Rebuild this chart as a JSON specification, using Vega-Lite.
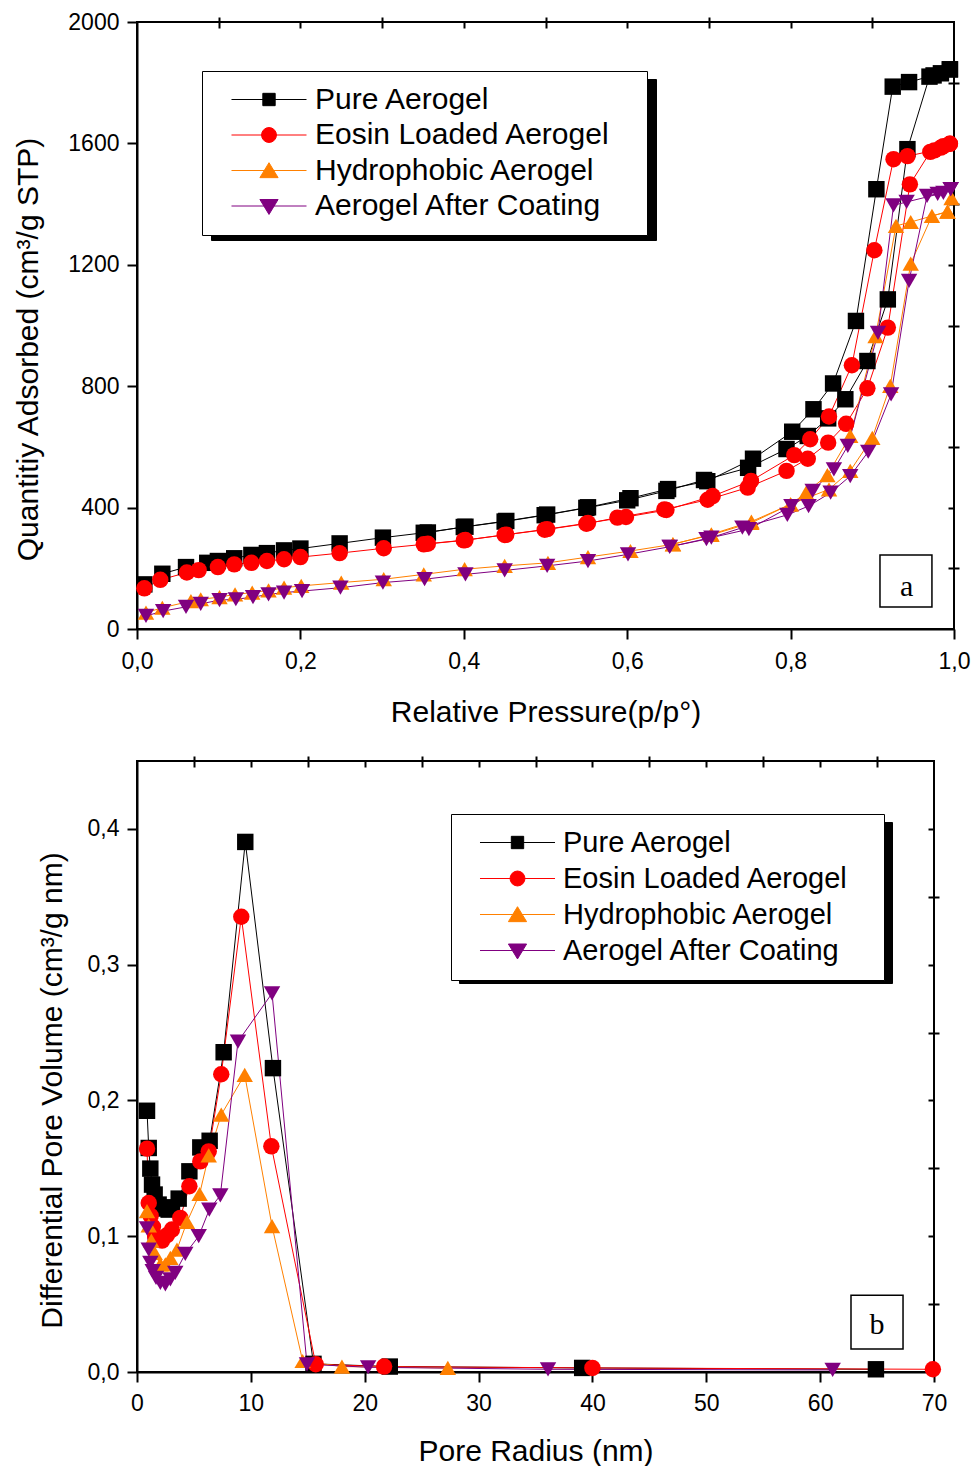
{
"$schema": "https://vega.github.io/schema/vega-lite/v6.json",
"background": "white",
"padding": {"left": 12, "top": 10, "right": 10, "bottom": 2},
"spacing": 26,
"config": {
 "font": "Liberation Sans",
 "view": {"stroke": "black", "strokeWidth": 2},
 "axis": {"grid": false, "domainColor": "black", "tickColor": "black", "labelColor": "black", "titleColor": "black", "labelFont": "Liberation Sans", "titleFont": "Liberation Sans", "labelFontSize": 23, "titleFontSize": 30, "titleFontWeight": "normal", "tickWidth": 2, "domainWidth": 2, "labelFlush": false, "labelOverlap": false}
},
"datasets": {
 "iso": [
  {"s":"Pure Aerogel","b":"a","p":0.009,"q":147},{"s":"Pure Aerogel","b":"a","p":0.031,"q":182},{"s":"Pure Aerogel","b":"a","p":0.060,"q":204},{"s":"Pure Aerogel","b":"a","p":0.086,"q":218},{"s":"Pure Aerogel","b":"a","p":0.099,"q":224},{"s":"Pure Aerogel","b":"a","p":0.119,"q":233},{"s":"Pure Aerogel","b":"a","p":0.140,"q":244},{"s":"Pure Aerogel","b":"a","p":0.159,"q":250},{"s":"Pure Aerogel","b":"a","p":0.180,"q":259},{"s":"Pure Aerogel","b":"a","p":0.200,"q":265},{"s":"Pure Aerogel","b":"a","p":0.248,"q":282},{"s":"Pure Aerogel","b":"a","p":0.301,"q":301},{"s":"Pure Aerogel","b":"a","p":0.351,"q":317},{"s":"Pure Aerogel","b":"a","p":0.400,"q":336},{"s":"Pure Aerogel","b":"a","p":0.450,"q":354},{"s":"Pure Aerogel","b":"a","p":0.499,"q":375},{"s":"Pure Aerogel","b":"a","p":0.550,"q":399},{"s":"Pure Aerogel","b":"a","p":0.600,"q":424},{"s":"Pure Aerogel","b":"a","p":0.648,"q":455},{"s":"Pure Aerogel","b":"a","p":0.694,"q":491},{"s":"Pure Aerogel","b":"a","p":0.748,"q":531},{"s":"Pure Aerogel","b":"a","p":0.795,"q":593},{"s":"Pure Aerogel","b":"a","p":0.821,"q":636},{"s":"Pure Aerogel","b":"a","p":0.846,"q":694},{"s":"Pure Aerogel","b":"a","p":0.867,"q":757},{"s":"Pure Aerogel","b":"a","p":0.894,"q":883},{"s":"Pure Aerogel","b":"a","p":0.919,"q":1086},{"s":"Pure Aerogel","b":"a","p":0.943,"q":1581},{"s":"Pure Aerogel","b":"a","p":0.970,"q":1820},{"s":"Pure Aerogel","b":"a","p":0.984,"q":1831},{"s":"Pure Aerogel","b":"a","p":0.995,"q":1844},
  {"s":"Pure Aerogel","b":"d","p":0.995,"q":1844},{"s":"Pure Aerogel","b":"d","p":0.975,"q":1824},{"s":"Pure Aerogel","b":"d","p":0.945,"q":1802},{"s":"Pure Aerogel","b":"d","p":0.925,"q":1787},{"s":"Pure Aerogel","b":"d","p":0.905,"q":1449},{"s":"Pure Aerogel","b":"d","p":0.880,"q":1015},{"s":"Pure Aerogel","b":"d","p":0.852,"q":809},{"s":"Pure Aerogel","b":"d","p":0.828,"q":724},{"s":"Pure Aerogel","b":"d","p":0.802,"q":650},{"s":"Pure Aerogel","b":"d","p":0.754,"q":561},{"s":"Pure Aerogel","b":"d","p":0.698,"q":487},{"s":"Pure Aerogel","b":"d","p":0.650,"q":461},{"s":"Pure Aerogel","b":"d","p":0.604,"q":431},{"s":"Pure Aerogel","b":"d","p":0.552,"q":401},{"s":"Pure Aerogel","b":"d","p":0.502,"q":377},{"s":"Pure Aerogel","b":"d","p":0.452,"q":356},{"s":"Pure Aerogel","b":"d","p":0.402,"q":337},{"s":"Pure Aerogel","b":"d","p":0.356,"q":318},
  {"s":"Eosin Loaded Aerogel","b":"a","p":0.009,"q":134},{"s":"Eosin Loaded Aerogel","b":"a","p":0.0285,"q":162},{"s":"Eosin Loaded Aerogel","b":"a","p":0.061,"q":186},{"s":"Eosin Loaded Aerogel","b":"a","p":0.0755,"q":194},{"s":"Eosin Loaded Aerogel","b":"a","p":0.099,"q":204},{"s":"Eosin Loaded Aerogel","b":"a","p":0.119,"q":213},{"s":"Eosin Loaded Aerogel","b":"a","p":0.140,"q":218},{"s":"Eosin Loaded Aerogel","b":"a","p":0.159,"q":224},{"s":"Eosin Loaded Aerogel","b":"a","p":0.180,"q":230},{"s":"Eosin Loaded Aerogel","b":"a","p":0.200,"q":237},{"s":"Eosin Loaded Aerogel","b":"a","p":0.248,"q":250},{"s":"Eosin Loaded Aerogel","b":"a","p":0.302,"q":266},{"s":"Eosin Loaded Aerogel","b":"a","p":0.351,"q":279},{"s":"Eosin Loaded Aerogel","b":"a","p":0.400,"q":292},{"s":"Eosin Loaded Aerogel","b":"a","p":0.450,"q":310},{"s":"Eosin Loaded Aerogel","b":"a","p":0.499,"q":327},{"s":"Eosin Loaded Aerogel","b":"a","p":0.550,"q":347},{"s":"Eosin Loaded Aerogel","b":"a","p":0.588,"q":367},{"s":"Eosin Loaded Aerogel","b":"a","p":0.6455,"q":394},{"s":"Eosin Loaded Aerogel","b":"a","p":0.6985,"q":426},{"s":"Eosin Loaded Aerogel","b":"a","p":0.7475,"q":466},{"s":"Eosin Loaded Aerogel","b":"a","p":0.795,"q":521},{"s":"Eosin Loaded Aerogel","b":"a","p":0.821,"q":561},{"s":"Eosin Loaded Aerogel","b":"a","p":0.846,"q":614},{"s":"Eosin Loaded Aerogel","b":"a","p":0.868,"q":676},{"s":"Eosin Loaded Aerogel","b":"a","p":0.894,"q":793},{"s":"Eosin Loaded Aerogel","b":"a","p":0.919,"q":993},{"s":"Eosin Loaded Aerogel","b":"a","p":0.946,"q":1465},{"s":"Eosin Loaded Aerogel","b":"a","p":0.971,"q":1572},{"s":"Eosin Loaded Aerogel","b":"a","p":0.984,"q":1586},{"s":"Eosin Loaded Aerogel","b":"a","p":0.995,"q":1599},
  {"s":"Eosin Loaded Aerogel","b":"d","p":0.995,"q":1599},{"s":"Eosin Loaded Aerogel","b":"d","p":0.987,"q":1591},{"s":"Eosin Loaded Aerogel","b":"d","p":0.976,"q":1577},{"s":"Eosin Loaded Aerogel","b":"d","p":0.943,"q":1558},{"s":"Eosin Loaded Aerogel","b":"d","p":0.926,"q":1548},{"s":"Eosin Loaded Aerogel","b":"d","p":0.9025,"q":1248},{"s":"Eosin Loaded Aerogel","b":"d","p":0.875,"q":869},{"s":"Eosin Loaded Aerogel","b":"d","p":0.847,"q":700},{"s":"Eosin Loaded Aerogel","b":"d","p":0.824,"q":625},{"s":"Eosin Loaded Aerogel","b":"d","p":0.8045,"q":573},{"s":"Eosin Loaded Aerogel","b":"d","p":0.7515,"q":488},{"s":"Eosin Loaded Aerogel","b":"d","p":0.7046,"q":438},{"s":"Eosin Loaded Aerogel","b":"d","p":0.648,"q":392},{"s":"Eosin Loaded Aerogel","b":"d","p":0.5985,"q":369},{"s":"Eosin Loaded Aerogel","b":"d","p":0.552,"q":349},{"s":"Eosin Loaded Aerogel","b":"d","p":0.502,"q":329},{"s":"Eosin Loaded Aerogel","b":"d","p":0.452,"q":311},{"s":"Eosin Loaded Aerogel","b":"d","p":0.402,"q":293},{"s":"Eosin Loaded Aerogel","b":"d","p":0.356,"q":281},
  {"s":"Hydrophobic Aerogel","b":"a","p":0.011,"q":54},{"s":"Hydrophobic Aerogel","b":"a","p":0.031,"q":70},{"s":"Hydrophobic Aerogel","b":"a","p":0.066,"q":92},{"s":"Hydrophobic Aerogel","b":"a","p":0.078,"q":98},{"s":"Hydrophobic Aerogel","b":"a","p":0.101,"q":105},{"s":"Hydrophobic Aerogel","b":"a","p":0.120,"q":114},{"s":"Hydrophobic Aerogel","b":"a","p":0.141,"q":120},{"s":"Hydrophobic Aerogel","b":"a","p":0.161,"q":127},{"s":"Hydrophobic Aerogel","b":"a","p":0.180,"q":136},{"s":"Hydrophobic Aerogel","b":"a","p":0.201,"q":142},{"s":"Hydrophobic Aerogel","b":"a","p":0.250,"q":153},{"s":"Hydrophobic Aerogel","b":"a","p":0.302,"q":164},{"s":"Hydrophobic Aerogel","b":"a","p":0.351,"q":180},{"s":"Hydrophobic Aerogel","b":"a","p":0.401,"q":197},{"s":"Hydrophobic Aerogel","b":"a","p":0.450,"q":208},{"s":"Hydrophobic Aerogel","b":"a","p":0.503,"q":218},{"s":"Hydrophobic Aerogel","b":"a","p":0.552,"q":237},{"s":"Hydrophobic Aerogel","b":"a","p":0.604,"q":257},{"s":"Hydrophobic Aerogel","b":"a","p":0.656,"q":279},{"s":"Hydrophobic Aerogel","b":"a","p":0.703,"q":312},{"s":"Hydrophobic Aerogel","b":"a","p":0.752,"q":354},{"s":"Hydrophobic Aerogel","b":"a","p":0.800,"q":411},{"s":"Hydrophobic Aerogel","b":"a","p":0.847,"q":460},{"s":"Hydrophobic Aerogel","b":"a","p":0.873,"q":521},{"s":"Hydrophobic Aerogel","b":"a","p":0.900,"q":630},{"s":"Hydrophobic Aerogel","b":"a","p":0.922,"q":801},{"s":"Hydrophobic Aerogel","b":"a","p":0.947,"q":1204},{"s":"Hydrophobic Aerogel","b":"a","p":0.973,"q":1361},{"s":"Hydrophobic Aerogel","b":"a","p":0.992,"q":1375},
  {"s":"Hydrophobic Aerogel","b":"d","p":0.992,"q":1375},{"s":"Hydrophobic Aerogel","b":"d","p":0.997,"q":1420},{"s":"Hydrophobic Aerogel","b":"d","p":0.947,"q":1341},{"s":"Hydrophobic Aerogel","b":"d","p":0.929,"q":1328},{"s":"Hydrophobic Aerogel","b":"d","p":0.904,"q":965},{"s":"Hydrophobic Aerogel","b":"d","p":0.873,"q":636},{"s":"Hydrophobic Aerogel","b":"d","p":0.845,"q":507},{"s":"Hydrophobic Aerogel","b":"d","p":0.819,"q":449},{"s":"Hydrophobic Aerogel","b":"d","p":0.800,"q":411},{"s":"Hydrophobic Aerogel","b":"d","p":0.752,"q":350},{"s":"Hydrophobic Aerogel","b":"d","p":0.703,"q":310},{"s":"Hydrophobic Aerogel","b":"d","p":0.656,"q":280},
  {"s":"Aerogel After Coating","b":"a","p":0.011,"q":43},{"s":"Aerogel After Coating","b":"a","p":0.032,"q":59},{"s":"Aerogel After Coating","b":"a","p":0.060,"q":73},{"s":"Aerogel After Coating","b":"a","p":0.078,"q":83},{"s":"Aerogel After Coating","b":"a","p":0.101,"q":95},{"s":"Aerogel After Coating","b":"a","p":0.121,"q":98},{"s":"Aerogel After Coating","b":"a","p":0.142,"q":105},{"s":"Aerogel After Coating","b":"a","p":0.161,"q":114},{"s":"Aerogel After Coating","b":"a","p":0.180,"q":120},{"s":"Aerogel After Coating","b":"a","p":0.202,"q":125},{"s":"Aerogel After Coating","b":"a","p":0.249,"q":136},{"s":"Aerogel After Coating","b":"a","p":0.301,"q":153},{"s":"Aerogel After Coating","b":"a","p":0.352,"q":164},{"s":"Aerogel After Coating","b":"a","p":0.402,"q":180},{"s":"Aerogel After Coating","b":"a","p":0.450,"q":193},{"s":"Aerogel After Coating","b":"a","p":0.502,"q":208},{"s":"Aerogel After Coating","b":"a","p":0.552,"q":224},{"s":"Aerogel After Coating","b":"a","p":0.601,"q":246},{"s":"Aerogel After Coating","b":"a","p":0.652,"q":271},{"s":"Aerogel After Coating","b":"a","p":0.697,"q":296},{"s":"Aerogel After Coating","b":"a","p":0.741,"q":334},{"s":"Aerogel After Coating","b":"a","p":0.796,"q":376},{"s":"Aerogel After Coating","b":"a","p":0.822,"q":405},{"s":"Aerogel After Coating","b":"a","p":0.849,"q":449},{"s":"Aerogel After Coating","b":"a","p":0.873,"q":504},{"s":"Aerogel After Coating","b":"a","p":0.895,"q":584},{"s":"Aerogel After Coating","b":"a","p":0.923,"q":773},{"s":"Aerogel After Coating","b":"a","p":0.945,"q":1147},{"s":"Aerogel After Coating","b":"a","p":0.967,"q":1427},{"s":"Aerogel After Coating","b":"a","p":0.980,"q":1434},{"s":"Aerogel After Coating","b":"a","p":0.996,"q":1449},
  {"s":"Aerogel After Coating","b":"d","p":0.996,"q":1449},{"s":"Aerogel After Coating","b":"d","p":0.987,"q":1437},{"s":"Aerogel After Coating","b":"d","p":0.942,"q":1407},{"s":"Aerogel After Coating","b":"d","p":0.926,"q":1396},{"s":"Aerogel After Coating","b":"d","p":0.907,"q":976},{"s":"Aerogel After Coating","b":"d","p":0.870,"q":603},{"s":"Aerogel After Coating","b":"d","p":0.853,"q":526},{"s":"Aerogel After Coating","b":"d","p":0.827,"q":455},{"s":"Aerogel After Coating","b":"d","p":0.801,"q":405},{"s":"Aerogel After Coating","b":"d","p":0.749,"q":329},{"s":"Aerogel After Coating","b":"d","p":0.703,"q":301},{"s":"Aerogel After Coating","b":"d","p":0.652,"q":271}
 ],
 "psd": [
  {"s":"Pure Aerogel","r":0.88,"v":0.1924},{"s":"Pure Aerogel","r":1.03,"v":0.165},{"s":"Pure Aerogel","r":1.17,"v":0.1498},{"s":"Pure Aerogel","r":1.32,"v":0.138},{"s":"Pure Aerogel","r":1.55,"v":0.1307},{"s":"Pure Aerogel","r":1.9,"v":0.1233},{"s":"Pure Aerogel","r":2.34,"v":0.1204},{"s":"Pure Aerogel","r":2.78,"v":0.1196},{"s":"Pure Aerogel","r":3.07,"v":0.1213},{"s":"Pure Aerogel","r":3.66,"v":0.1277},{"s":"Pure Aerogel","r":4.6,"v":0.1478},{"s":"Pure Aerogel","r":5.56,"v":0.1654},{"s":"Pure Aerogel","r":6.38,"v":0.1703},{"s":"Pure Aerogel","r":7.61,"v":0.2355},{"s":"Pure Aerogel","r":9.51,"v":0.3904},{"s":"Pure Aerogel","r":11.94,"v":0.2238},{"s":"Pure Aerogel","r":15.5,"v":0.006},{"s":"Pure Aerogel","r":22.2,"v":0.004},{"s":"Pure Aerogel","r":39.1,"v":0.003},{"s":"Pure Aerogel","r":64.9,"v":0.002},
  {"s":"Eosin Loaded Aerogel","r":0.88,"v":0.1645},{"s":"Eosin Loaded Aerogel","r":1.03,"v":0.1245},{"s":"Eosin Loaded Aerogel","r":1.2,"v":0.115},{"s":"Eosin Loaded Aerogel","r":1.4,"v":0.107},{"s":"Eosin Loaded Aerogel","r":1.6,"v":0.1},{"s":"Eosin Loaded Aerogel","r":1.76,"v":0.0976},{"s":"Eosin Loaded Aerogel","r":2.2,"v":0.0968},{"s":"Eosin Loaded Aerogel","r":2.63,"v":0.1007},{"s":"Eosin Loaded Aerogel","r":3.07,"v":0.1049},{"s":"Eosin Loaded Aerogel","r":3.8,"v":0.1135},{"s":"Eosin Loaded Aerogel","r":4.6,"v":0.1368},{"s":"Eosin Loaded Aerogel","r":5.56,"v":0.1551},{"s":"Eosin Loaded Aerogel","r":6.3,"v":0.1625},{"s":"Eosin Loaded Aerogel","r":7.4,"v":0.2193},{"s":"Eosin Loaded Aerogel","r":9.16,"v":0.3353},{"s":"Eosin Loaded Aerogel","r":11.8,"v":0.1662},{"s":"Eosin Loaded Aerogel","r":15.7,"v":0.0057},{"s":"Eosin Loaded Aerogel","r":21.7,"v":0.004},{"s":"Eosin Loaded Aerogel","r":40.0,"v":0.003},{"s":"Eosin Loaded Aerogel","r":69.9,"v":0.002},
  {"s":"Hydrophobic Aerogel","r":0.88,"v":0.1184},{"s":"Hydrophobic Aerogel","r":1.03,"v":0.108},{"s":"Hydrophobic Aerogel","r":1.26,"v":0.0968},{"s":"Hydrophobic Aerogel","r":1.55,"v":0.0877},{"s":"Hydrophobic Aerogel","r":2.05,"v":0.0792},{"s":"Hydrophobic Aerogel","r":2.49,"v":0.0792},{"s":"Hydrophobic Aerogel","r":2.93,"v":0.084},{"s":"Hydrophobic Aerogel","r":3.51,"v":0.0902},{"s":"Hydrophobic Aerogel","r":4.39,"v":0.1105},{"s":"Hydrophobic Aerogel","r":5.5,"v":0.1311},{"s":"Hydrophobic Aerogel","r":6.3,"v":0.1596},{"s":"Hydrophobic Aerogel","r":7.4,"v":0.1895},{"s":"Hydrophobic Aerogel","r":9.46,"v":0.2189},{"s":"Hydrophobic Aerogel","r":11.86,"v":0.1074},{"s":"Hydrophobic Aerogel","r":14.55,"v":0.0081},{"s":"Hydrophobic Aerogel","r":18.0,"v":0.004},{"s":"Hydrophobic Aerogel","r":27.3,"v":0.003},
  {"s":"Aerogel After Coating","r":0.88,"v":0.1057},{"s":"Aerogel After Coating","r":1.03,"v":0.0902},{"s":"Aerogel After Coating","r":1.17,"v":0.0804},{"s":"Aerogel After Coating","r":1.38,"v":0.0743},{"s":"Aerogel After Coating","r":1.67,"v":0.0693},{"s":"Aerogel After Coating","r":2.05,"v":0.0657},{"s":"Aerogel After Coating","r":2.49,"v":0.0645},{"s":"Aerogel After Coating","r":2.93,"v":0.0682},{"s":"Aerogel After Coating","r":3.36,"v":0.073},{"s":"Aerogel After Coating","r":4.24,"v":0.087},{"s":"Aerogel After Coating","r":5.42,"v":0.1},{"s":"Aerogel After Coating","r":6.35,"v":0.1196},{"s":"Aerogel After Coating","r":7.32,"v":0.1301},{"s":"Aerogel After Coating","r":8.87,"v":0.2434},{"s":"Aerogel After Coating","r":11.86,"v":0.2789},{"s":"Aerogel After Coating","r":14.93,"v":0.0057},{"s":"Aerogel After Coating","r":20.3,"v":0.0035},{"s":"Aerogel After Coating","r":36.1,"v":0.002},{"s":"Aerogel After Coating","r":61.1,"v":0.0015}
 ]
},
"resolve": {
 "scale": {"color": "independent", "shape": "independent", "size": "independent", "opacity": "independent"},
 "legend": {"color": "independent", "opacity": "independent"}
},
"vconcat": [
 {
  "width": 817, "height": 607,
  "data": {"name": "iso"},
  "resolve": {"axis": {"x": "independent", "y": "independent"}},
  "layer": [
   {
    "mark": {"type": "line", "strokeWidth": 1},
    "encoding": {
     "x": {"field": "p", "type": "quantitative", "scale": {"domain": [0, 1], "nice": false}, "axis": {"values": [0, 0.2, 0.4, 0.6, 0.8, 1.0], "labelExpr": "replace(format(datum.value, '.1f'), '.', ',')", "title": "Relative Pressure(p/p°)", "tickSize": 10, "labelPadding": 11, "titlePadding": 24}},
     "y": {"field": "q", "type": "quantitative", "scale": {"domain": [0, 2000], "nice": false}, "axis": {"values": [0, 400, 800, 1200, 1600, 2000], "format": "d", "title": "Quantitiy Adsorbed (cm³/g STP)", "tickSize": 10, "labelPadding": 8, "titlePadding": 24, "titleY": 327}},
     "color": {"field": "s", "type": "nominal", "scale": {"domain": ["Pure Aerogel", "Eosin Loaded Aerogel", "Hydrophobic Aerogel", "Aerogel After Coating"], "range": ["#000000", "#ff0000", "#ff8000", "#800080"]},
      "legend": {"orient": "none", "legendX": 65, "legendY": 49, "title": null, "padding": 14, "rowPadding": 4.5, "clipHeight": 29, "symbolOffset": 38, "labelOffset": 31, "labelFont": "Liberation Sans", "labelFontSize": 30, "labelColor": "black", "labelLimit": 800, "symbolSize": 169, "symbolStrokeWidth": 1, "strokeColor": "black", "fillColor": "white", "zindex": 2, "labelExpr": "datum.label + '\u2800'",
       "encode": {"symbols": {"update": {
        "shape": {"signal": "datum.value === 'Pure Aerogel' ? 'M-5.77,0H5.77M-0.95,-0.95H0.95V0.95H-0.95Z' : datum.value === 'Eosin Loaded Aerogel' ? 'M-5.77,0H5.77M1.15,0L1.062,0.44L0.813,0.813L0.44,1.062L0,1.15L-0.44,1.062L-0.813,0.813L-1.062,0.44L-1.15,0L-1.062,-0.44L-0.813,-0.813L-0.44,-1.062L0,-1.15L0.44,-1.062L0.813,-0.813L1.062,-0.44Z' : datum.value === 'Hydrophobic Aerogel' ? 'M-5.77,0H5.77M0,-1.2L1.4,1.1L-1.4,1.1Z' : 'M-5.77,0H5.77M0,1.3L1.4,-1L-1.4,-1Z'"},
        "fill": {"signal": "datum.value === 'Pure Aerogel' ? '#000000' : datum.value === 'Eosin Loaded Aerogel' ? '#ff0000' : datum.value === 'Hydrophobic Aerogel' ? '#ff8000' : '#800080'"},
        "stroke": {"signal": "datum.value === 'Pure Aerogel' ? '#000000' : datum.value === 'Eosin Loaded Aerogel' ? '#ff0000' : datum.value === 'Hydrophobic Aerogel' ? '#ff8000' : '#800080'"},
        "size": {"value": 169}, "opacity": {"value": 1}, "strokeWidth": {"value": 1}}}}}},
     "detail": {"field": "b"}
    }
   },
   {
    "mark": {"type": "point", "filled": true, "opacity": 1},
    "encoding": {
     "x": {"field": "p", "type": "quantitative", "axis": {"values": [0.1, 0.3, 0.5, 0.7, 0.9], "tickSize": 5, "labels": false, "domain": false, "title": null}},
     "y": {"field": "q", "type": "quantitative", "axis": {"values": [200, 600, 1000, 1400, 1800], "tickSize": 5, "labels": false, "domain": false, "title": null}},
     "color": {"field": "s", "type": "nominal", "scale": {"domain": ["Pure Aerogel", "Eosin Loaded Aerogel", "Hydrophobic Aerogel", "Aerogel After Coating"], "range": ["#000000", "#ff0000", "#ff8000", "#800080"]}},
     "shape": {"field": "s", "type": "nominal", "scale": {"domain": ["Aerogel After Coating", "Eosin Loaded Aerogel", "Hydrophobic Aerogel", "Pure Aerogel"], "range": ["triangle-down", "circle", "triangle-up", "square"]}, "legend": null},
     "size": {"field": "s", "type": "nominal", "scale": {"domain": ["Hydrophobic Aerogel", "Aerogel After Coating", "Pure Aerogel", "Eosin Loaded Aerogel"], "range": [270, 270, 115, 145]}, "legend": null}
    }
   },
   {
    "mark": {"type": "point", "filled": true},
    "encoding": {
     "x": {"field": "p", "type": "quantitative", "axis": {"orient": "top", "values": [0.1, 0.2, 0.3, 0.4, 0.5, 0.6, 0.7, 0.8, 0.9], "tickSize": -6, "labels": false, "domain": false, "title": null}},
     "y": {"field": "q", "type": "quantitative", "axis": {"orient": "right", "values": [200, 400, 600, 800, 1000, 1200, 1400, 1600, 1800], "tickSize": -6, "labels": false, "domain": false, "title": null}},
     "opacity": {"field": "s", "type": "ordinal", "scale": {"range": [0, 0]},
      "legend": {"orient": "none", "legendX": 74, "legendY": 57, "title": null, "padding": 14, "rowPadding": 20.5, "clipHeight": 29, "symbolOffset": 38, "labelOffset": 31, "labelFont": "Liberation Sans", "labelFontSize": 30, "labelColor": "black", "labelLimit": 800, "symbolSize": 169, "symbolStrokeWidth": 1, "strokeColor": "black", "fillColor": "black", "zindex": 1, "labelExpr": "datum.label + '\u2800'",
       "encode": {"symbols": {"update": {
        "shape": {"signal": "datum.value === 'Pure Aerogel' ? 'M-5.77,0H5.77M-0.95,-0.95H0.95V0.95H-0.95Z' : datum.value === 'Eosin Loaded Aerogel' ? 'M-5.77,0H5.77M1.15,0L1.062,0.44L0.813,0.813L0.44,1.062L0,1.15L-0.44,1.062L-0.813,0.813L-1.062,0.44L-1.15,0L-1.062,-0.44L-0.813,-0.813L-0.44,-1.062L0,-1.15L0.44,-1.062L0.813,-0.813L1.062,-0.44Z' : datum.value === 'Hydrophobic Aerogel' ? 'M-5.77,0H5.77M0,-1.2L1.4,1.1L-1.4,1.1Z' : 'M-5.77,0H5.77M0,1.3L1.4,-1L-1.4,-1Z'"},
        "size": {"value": 169}, "opacity": {"value": 0}}}}}}
    }
   },
   {
    "data": {"values": [{}]},
    "mark": {"type": "rect", "fill": "white", "stroke": "black", "strokeWidth": 1.5},
    "encoding": {
     "x": {"datum": 0.9094, "type": "quantitative", "axis": null}, "x2": {"datum": 0.973},
     "y": {"datum": 243.8, "type": "quantitative", "axis": null}, "y2": {"datum": 72.5}
    }
   },
   {
    "data": {"values": [{}]},
    "mark": {"type": "text", "font": "Liberation Serif", "fontSize": 30, "align": "center", "baseline": "middle", "color": "black"},
    "encoding": {
     "x": {"datum": 0.942, "type": "quantitative", "axis": null},
     "y": {"datum": 140, "type": "quantitative", "axis": null},
     "text": {"value": "a"}
    }
   }
  ]
 },
 {
  "width": 797, "height": 611,
  "data": {"name": "psd"},
  "resolve": {"axis": {"x": "independent", "y": "independent"}},
  "layer": [
   {
    "mark": {"type": "line", "strokeWidth": 1},
    "encoding": {
     "x": {"field": "r", "type": "quantitative", "scale": {"domain": [0, 70], "nice": false}, "axis": {"values": [0, 10, 20, 30, 40, 50, 60, 70], "format": "d", "title": "Pore Radius (nm)", "tickSize": 10, "labelPadding": 10, "titlePadding": 21}},
     "y": {"field": "v", "type": "quantitative", "scale": {"domain": [0, 0.45], "nice": false}, "axis": {"values": [0, 0.1, 0.2, 0.3, 0.4], "labelExpr": "replace(format(datum.value, '.1f'), '.', ',')", "title": "Differential Pore Volume (cm³/g nm)", "tickSize": 10, "labelPadding": 8, "titlePadding": 20, "titleY": 329}},
     "color": {"field": "s", "type": "nominal", "scale": {"domain": ["Pure Aerogel", "Eosin Loaded Aerogel", "Hydrophobic Aerogel", "Aerogel After Coating"], "range": ["#000000", "#ff0000", "#ff8000", "#800080"]},
      "legend": {"orient": "none", "legendX": 314, "legendY": 53, "title": null, "padding": 14, "rowPadding": 6, "clipHeight": 29, "symbolOffset": 38, "labelOffset": 31, "labelFont": "Liberation Sans", "labelFontSize": 29, "labelColor": "black", "labelLimit": 800, "symbolSize": 169, "symbolStrokeWidth": 1, "strokeColor": "black", "fillColor": "white", "zindex": 2, "labelExpr": "datum.label + '\u2800'",
       "encode": {"symbols": {"update": {
        "shape": {"signal": "datum.value === 'Pure Aerogel' ? 'M-5.77,0H5.77M-0.95,-0.95H0.95V0.95H-0.95Z' : datum.value === 'Eosin Loaded Aerogel' ? 'M-5.77,0H5.77M1.15,0L1.062,0.44L0.813,0.813L0.44,1.062L0,1.15L-0.44,1.062L-0.813,0.813L-1.062,0.44L-1.15,0L-1.062,-0.44L-0.813,-0.813L-0.44,-1.062L0,-1.15L0.44,-1.062L0.813,-0.813L1.062,-0.44Z' : datum.value === 'Hydrophobic Aerogel' ? 'M-5.77,0H5.77M0,-1.2L1.4,1.1L-1.4,1.1Z' : 'M-5.77,0H5.77M0,1.3L1.4,-1L-1.4,-1Z'"},
        "fill": {"signal": "datum.value === 'Pure Aerogel' ? '#000000' : datum.value === 'Eosin Loaded Aerogel' ? '#ff0000' : datum.value === 'Hydrophobic Aerogel' ? '#ff8000' : '#800080'"},
        "stroke": {"signal": "datum.value === 'Pure Aerogel' ? '#000000' : datum.value === 'Eosin Loaded Aerogel' ? '#ff0000' : datum.value === 'Hydrophobic Aerogel' ? '#ff8000' : '#800080'"},
        "size": {"value": 169}, "opacity": {"value": 1}, "strokeWidth": {"value": 1}}}}}}
    }
   },
   {
    "mark": {"type": "point", "filled": true, "opacity": 1},
    "encoding": {
     "x": {"field": "r", "type": "quantitative", "axis": {"values": [5, 15, 25, 35, 45, 55, 65], "tickSize": 5, "labels": false, "domain": false, "title": null}},
     "y": {"field": "v", "type": "quantitative", "axis": {"values": [0.05, 0.15, 0.25, 0.35], "tickSize": 5, "labels": false, "domain": false, "title": null}},
     "color": {"field": "s", "type": "nominal", "scale": {"domain": ["Pure Aerogel", "Eosin Loaded Aerogel", "Hydrophobic Aerogel", "Aerogel After Coating"], "range": ["#000000", "#ff0000", "#ff8000", "#800080"]}},
     "shape": {"field": "s", "type": "nominal", "scale": {"domain": ["Aerogel After Coating", "Eosin Loaded Aerogel", "Hydrophobic Aerogel", "Pure Aerogel"], "range": ["triangle-down", "circle", "triangle-up", "square"]}, "legend": null},
     "size": {"field": "s", "type": "nominal", "scale": {"domain": ["Hydrophobic Aerogel", "Aerogel After Coating", "Pure Aerogel", "Eosin Loaded Aerogel"], "range": [270, 270, 115, 145]}, "legend": null}
    }
   },
   {
    "mark": {"type": "point", "filled": true},
    "encoding": {
     "x": {"field": "r", "type": "quantitative", "axis": {"orient": "top", "values": [5, 10, 15, 20, 25, 30, 35, 40, 45, 50, 55, 60, 65], "tickSize": -6, "labels": false, "domain": false, "title": null}},
     "y": {"field": "v", "type": "quantitative", "axis": {"orient": "right", "values": [0.05, 0.1, 0.15, 0.2, 0.25, 0.3, 0.35, 0.4], "tickSize": -6, "labels": false, "domain": false, "title": null}},
     "opacity": {"field": "s", "type": "ordinal", "scale": {"range": [0, 0]},
      "legend": {"orient": "none", "legendX": 322, "legendY": 61, "title": null, "padding": 14, "rowPadding": 21.5, "clipHeight": 29, "symbolOffset": 38, "labelOffset": 31, "labelFont": "Liberation Sans", "labelFontSize": 29, "labelColor": "black", "labelLimit": 800, "symbolSize": 169, "symbolStrokeWidth": 1, "strokeColor": "black", "fillColor": "black", "zindex": 1, "labelExpr": "datum.label + '\u2800'",
       "encode": {"symbols": {"update": {
        "shape": {"signal": "datum.value === 'Pure Aerogel' ? 'M-5.77,0H5.77M-0.95,-0.95H0.95V0.95H-0.95Z' : datum.value === 'Eosin Loaded Aerogel' ? 'M-5.77,0H5.77M1.15,0L1.062,0.44L0.813,0.813L0.44,1.062L0,1.15L-0.44,1.062L-0.813,0.813L-1.062,0.44L-1.15,0L-1.062,-0.44L-0.813,-0.813L-0.44,-1.062L0,-1.15L0.44,-1.062L0.813,-0.813L1.062,-0.44Z' : datum.value === 'Hydrophobic Aerogel' ? 'M-5.77,0H5.77M0,-1.2L1.4,1.1L-1.4,1.1Z' : 'M-5.77,0H5.77M0,1.3L1.4,-1L-1.4,-1Z'"},
        "size": {"value": 169}, "opacity": {"value": 0}}}}}}
    }
   },
   {
    "data": {"values": [{}]},
    "mark": {"type": "rect", "fill": "white", "stroke": "black", "strokeWidth": 1.5},
    "encoding": {
     "x": {"datum": 62.71, "type": "quantitative", "axis": null}, "x2": {"datum": 67.28},
     "y": {"datum": 0.0566, "type": "quantitative", "axis": null}, "y2": {"datum": 0.0169}
    }
   },
   {
    "data": {"values": [{}]},
    "mark": {"type": "text", "font": "Liberation Serif", "fontSize": 30, "align": "center", "baseline": "middle", "color": "black"},
    "encoding": {
     "x": {"datum": 65.0, "type": "quantitative", "axis": null},
     "y": {"datum": 0.0345, "type": "quantitative", "axis": null},
     "text": {"value": "b"}
    }
   }
  ]
 }
]
}
